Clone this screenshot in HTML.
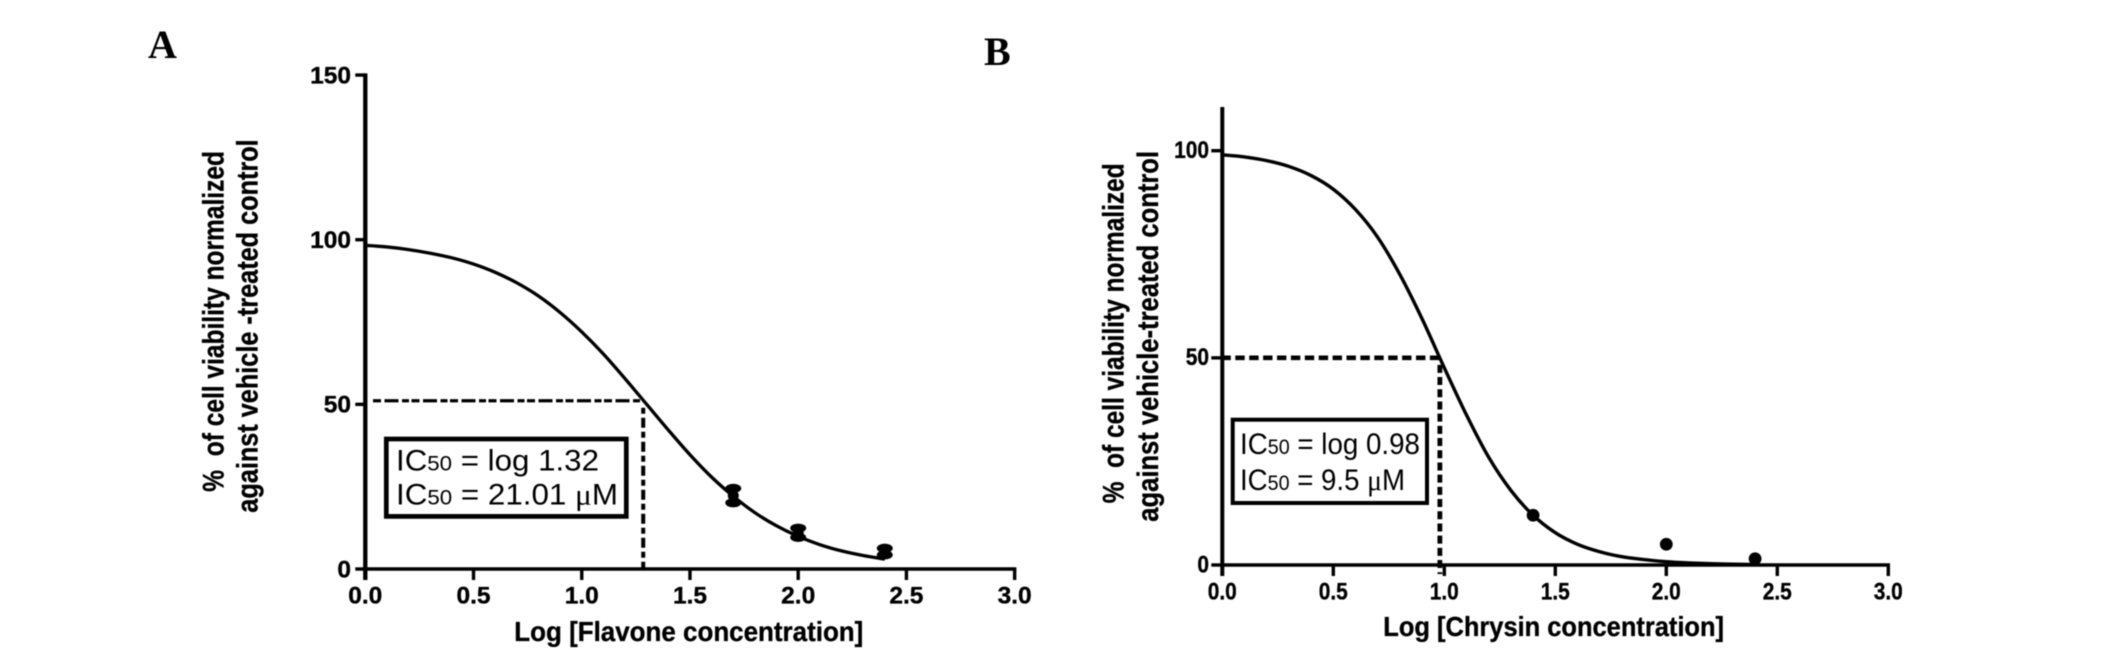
<!DOCTYPE html>
<html lang="en">
<head>
<meta charset="utf-8">
<title>IC50 dose-response curves</title>
<style>
html,body{margin:0;padding:0;background:#fff;}
svg{display:block;filter:blur(0.4px);}
text{fill:#000;font-family:"Liberation Sans",sans-serif;}
.tick,.title{font-weight:bold;stroke:#000;stroke-width:0.35px;}
.letter{font-family:"Liberation Serif",serif;font-weight:bold;font-size:40px;}
.box-text{font-size:29.5px;}
.sub{font-size:21px;}
.mu{font-family:"Liberation Serif",serif;}
</style>
</head>
<body>
<svg id="figure" xmlns="http://www.w3.org/2000/svg" width="2126" height="659" viewBox="0 0 2126 659">
  <rect width="2126" height="659" fill="#fff"/>
  <text class="letter" x="148" y="58">A</text>
  <text class="letter" x="984" y="65">B</text>

  <g id="panelA"></g>
  <g id="panelB"></g>

  <text class="title" x="514.3" y="641" font-size="27.5" textLength="349" lengthAdjust="spacingAndGlyphs">Log [Flavone concentration]</text>
  <text class="title" transform="translate(223.3 491.7) rotate(-90)" font-size="30" textLength="340.7" lengthAdjust="spacingAndGlyphs" xml:space="preserve">%  of cell viability normalized</text>
  <text class="title" transform="translate(257.5 512.7) rotate(-90)" font-size="30" textLength="373.4" lengthAdjust="spacingAndGlyphs">against vehicle -treated control</text>

  <text class="title" x="1383.3" y="636" font-size="27.5" textLength="340.7" lengthAdjust="spacingAndGlyphs">Log [Chrysin concentration]</text>
  <text class="title" transform="translate(1123.3 503.3) rotate(-90)" font-size="30" textLength="340" lengthAdjust="spacingAndGlyphs" xml:space="preserve">%  of cell viability normalized</text>
  <text class="title" transform="translate(1158 521.7) rotate(-90)" font-size="30" textLength="370.7" lengthAdjust="spacingAndGlyphs">against vehicle-treated control</text>

  <g>
    <rect x="386.3" y="439" width="240" height="77.4" fill="#fff" stroke="#000" stroke-width="4.7"/>
    <text class="box-text" x="396" y="470.7" textLength="203" lengthAdjust="spacingAndGlyphs">IC<tspan class="sub">50</tspan> = log 1.32</text>
    <text class="box-text" x="396" y="504.3" textLength="222" lengthAdjust="spacingAndGlyphs">IC<tspan class="sub">50</tspan> = 21.01 <tspan class="mu">μ</tspan>M</text>
  </g>
  <g>
    <rect x="1232.7" y="419.7" width="194.3" height="83.3" fill="#fff" stroke="#000" stroke-width="4"/>
    <text class="box-text" x="1240" y="454" textLength="180" lengthAdjust="spacingAndGlyphs">IC<tspan class="sub">50</tspan> = log 0.98</text>
    <text class="box-text" x="1240" y="490" textLength="165" lengthAdjust="spacingAndGlyphs">IC<tspan class="sub">50</tspan> = 9.5 <tspan class="mu">μ</tspan>M</text>
  </g>
</svg>
<script>
// ---- chart data ----
const xTicks = [0, 0.5, 1, 1.5, 2, 2.5, 3];
const xTickLabels = ['0.0', '0.5', '1.0', '1.5', '2.0', '2.5', '3.0'];

const flavoneYTicks = [0, 50, 100, 150];
const flavoneFitX = [0, 0.1, 0.2, 0.3, 0.4, 0.5, 0.6, 0.7, 0.8, 0.9, 1.0, 1.1, 1.2, 1.3, 1.4, 1.5, 1.6, 1.7, 1.8, 1.9, 2.0, 2.1, 2.2, 2.3, 2.4];
const flavoneFitY = [98.3, 97.8, 97.0, 95.9, 94.5, 92.6, 90.1, 86.9, 82.9, 77.9, 72.0, 65.3, 57.8, 50.0, 42.2, 34.7, 27.9, 22.1, 17.1, 13.1, 9.9, 7.4, 5.5, 4.1, 3.0];
const flavonePointX = [1.7, 2.0, 2.4];
const flavonePointY = [22.3, 11.0, 5.3];
const flavonePointErr = [2.2, 1.4, 1.0];
const flavoneIc50X = 1.284;
const flavoneIc50Y = 51.1;

const chrysinYTicks = [0, 50, 100];
const chrysinFitX = [0, 0.1, 0.2, 0.3, 0.4, 0.5, 0.6, 0.7, 0.8, 0.9, 1.0, 1.1, 1.2, 1.3, 1.4, 1.5, 1.6, 1.7, 1.8, 1.9, 2.0, 2.1, 2.2, 2.3, 2.4];
const chrysinFitY = [99.0, 98.5, 97.6, 96.2, 94.0, 90.7, 85.8, 79.1, 70.1, 59.4, 47.6, 36.2, 26.0, 18.0, 12.0, 7.8, 5.0, 3.2, 2.0, 1.3, 0.8, 0.5, 0.3, 0.2, 0.1];
const chrysinPointX = [1.4, 2.0, 2.4];
const chrysinPointY = [12.0, 5.0, 1.5];
const chrysinIc50X = 0.98;
const chrysinIc50Y = 50;

// ---- drawing ----
const NS = 'http://www.w3.org/2000/svg';
function make(tag, parent, attrs) {
  const node = document.createElementNS(NS, tag);
  for (const k in attrs) node.setAttribute(k, attrs[k]);
  parent.appendChild(node);
  return node;
}
function smoothPath(xs, ys, sx, sy) {
  const p = xs.map((v, i) => [sx(v), sy(ys[i])]);
  let d = 'M' + p[0][0] + ' ' + p[0][1];
  for (let i = 0; i < p.length - 1; i++) {
    const a = p[Math.max(i - 1, 0)], b = p[i], c = p[i + 1], e = p[Math.min(i + 2, p.length - 1)];
    d += ' C' + (b[0] + (c[0] - a[0]) / 6) + ' ' + (b[1] + (c[1] - a[1]) / 6) + ' ' +
         (c[0] - (e[0] - b[0]) / 6) + ' ' + (c[1] - (e[1] - b[1]) / 6) + ' ' + c[0] + ' ' + c[1];
  }
  return d;
}
function fitLabel(t, stretch) {
  t.setAttribute('textLength', (t.getComputedTextLength() * stretch).toFixed(2));
  t.setAttribute('lengthAdjust', 'spacingAndGlyphs');
}

function drawAxes(g, o) {
  const yAxis = make('line', g, {x1: o.sx(0), x2: o.sx(0), y1: o.yAxisTop, y2: o.sy(0) + o.xTickLen, stroke: '#000', 'stroke-width': o.yAxisWidth});
  
  
  const xAxis = make('line', g, {x1: o.sx(0), x2: o.sx(3) + 1.7, y1: o.sy(0), y2: o.sy(0), stroke: '#000', 'stroke-width': 3.6});
  
  

  o.yTicks.forEach(v => {
    const tick = make('line', g, {x1: o.sx(0) - o.yTickLen, x2: o.sx(0), y1: o.sy(v), y2: o.sy(v), stroke: '#000', 'stroke-width': 3.4});
    
    
    const label = make('text', g, {class: 'tick', x: o.yLabelRight, y: o.sy(v) + o.yLabelDy, 'text-anchor': 'end', 'font-size': 24});
    label.textContent = String(v);
    
    
    fitLabel(label, o.labelStretch);
  });
  xTicks.forEach((v, i) => {
    const tick = make('line', g, {x1: o.sx(v), x2: o.sx(v), y1: o.sy(0), y2: o.sy(0) + o.xTickLen, stroke: '#000', 'stroke-width': 3.4});
    
    
    const label = make('text', g, {class: 'tick', x: o.sx(v), y: o.xLabelY, 'text-anchor': 'middle', 'font-size': 24});
    label.textContent = xTickLabels[i];
    
    
    fitLabel(label, o.labelStretch);
  });
}

// Panel A: flavone
(function () {
  const g = document.getElementById('panelA');
  const sx = v => 365.3 + v * 216.45;
  const sy = v => 569 - v * 3.293;
  drawAxes(g, {sx, sy, yTicks: flavoneYTicks, yAxisTop: sy(150) - 1.7, yAxisWidth: 4.3, yTickLen: 10, xTickLen: 11, yLabelRight: 351, yLabelDy: 8.3, xLabelY: 603.3, labelStretch: 1.02});

  const h = make('line', g, {x1: 373, x2: sx(flavoneIc50X), y1: sy(flavoneIc50Y), y2: sy(flavoneIc50Y), stroke: '#000', 'stroke-width': 3.2, 'stroke-dasharray': '8 3.5 14 3.5 7 2.5'});
  
  
  const v = make('line', g, {x1: sx(flavoneIc50X), x2: sx(flavoneIc50X), y1: sy(flavoneIc50Y) + 7, y2: sy(0), stroke: '#000', 'stroke-width': 4, 'stroke-dasharray': '6 4 10 4'});
  
  

  const curve = make('path', g, {d: smoothPath(flavoneFitX, flavoneFitY, sx, sy), fill: 'none', stroke: '#000', 'stroke-width': 3.3});
  
  

  flavonePointX.forEach((x, i) => {
    const top = sy(flavonePointY[i] + flavonePointErr[i]);
    const bottom = sy(flavonePointY[i] - flavonePointErr[i]);
    const stem = make('line', g, {x1: sx(x), x2: sx(x), y1: top, y2: bottom, stroke: '#000', 'stroke-width': 6});
    
    
    [top, bottom].forEach(yy => {
      const cap = make('ellipse', g, {cx: sx(x), cy: yy, rx: 8, ry: 4.6, fill: '#000'});
      
      
    });
    const dot = make('circle', g, {cx: sx(x), cy: sy(flavonePointY[i]), r: 5.5, fill: '#000'});
    
    
  });
})();

// Panel B: chrysin
(function () {
  const g = document.getElementById('panelB');
  const sx = v => 1222.3 + v * 222;
  const sy = v => 565 - v * 4.143;
  drawAxes(g, {sx, sy, yTicks: chrysinYTicks, yAxisTop: 107, yAxisWidth: 4, yTickLen: 11, xTickLen: 11, yLabelRight: 1209, yLabelDy: 7.3, xLabelY: 599.3, labelStretch: 0.87});

  const h = make('line', g, {x1: 1221.4, x2: sx(chrysinIc50X), y1: sy(chrysinIc50Y), y2: sy(chrysinIc50Y), stroke: '#000', 'stroke-width': 4.6, 'stroke-dasharray': '9.4 4.5'});
  
  
  const v = make('line', g, {x1: sx(chrysinIc50X), x2: sx(chrysinIc50X), y1: sy(chrysinIc50Y) + 7, y2: sy(0) + 9, stroke: '#000', 'stroke-width': 4.8, 'stroke-dasharray': '8 4.2'});
  
  

  const curve = make('path', g, {d: smoothPath(chrysinFitX, chrysinFitY, sx, sy), fill: 'none', stroke: '#000', 'stroke-width': 3.4});
  
  

  chrysinPointX.forEach((x, i) => {
    const dot = make('circle', g, {cx: sx(x), cy: sy(chrysinPointY[i]), r: 6.4, fill: '#000'});
    
    
  });
})();
</script>
</body>
</html>
